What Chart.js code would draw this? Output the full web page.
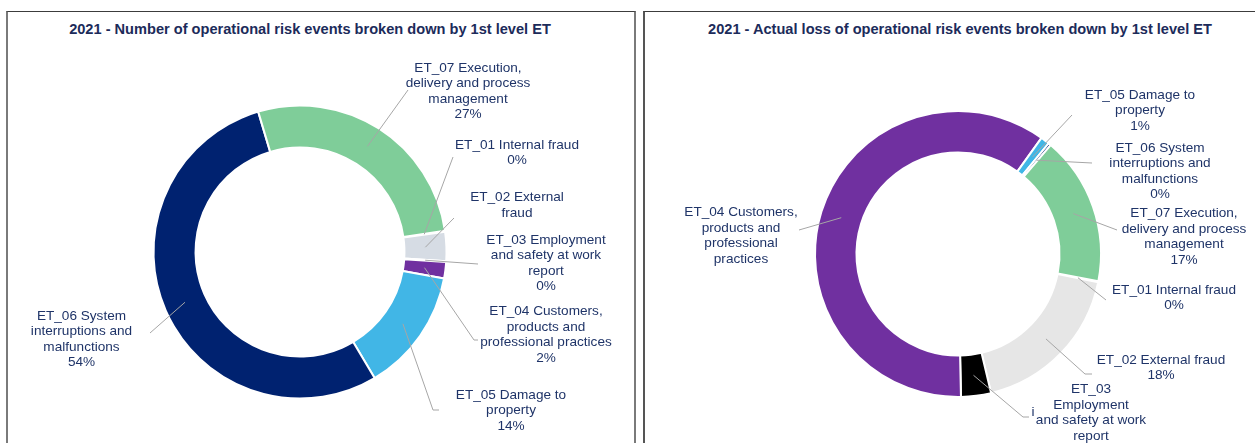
<!DOCTYPE html>
<html>
<head>
<meta charset="utf-8">
<script src="https://cdn.jsdelivr.net/npm/chart.js@4.4.0/dist/chart.umd.min.js"></script>
<style>
html,body{margin:0;padding:0;background:#fff;}
body{width:1255px;height:443px;overflow:hidden;position:relative;font-family:Arial,"Liberation Sans",sans-serif;}
.panel{position:absolute;top:11px;height:440px;border-top:1px solid #3c3c3c;box-sizing:border-box;}
#p1{left:6px;width:630px;border-left:2px solid #7a7a7a;border-right:2px solid #7a7a7a;}
#p2{left:643px;width:640px;border-left:2px solid #555;}
.ttl{position:absolute;top:21px;font-weight:bold;font-size:14.6px;color:#1c2b5a;white-space:nowrap;transform:translateX(-50%);}
canvas{position:absolute;left:0;top:0;}
</style>
</head>
<body>
<div class="panel" id="p1"></div>
<div class="panel" id="p2"></div>
<div class="ttl" style="left:310px">2021 - Number of operational risk events broken down by 1st level ET</div>
<div class="ttl" style="left:960px">2021 - Actual loss of operational risk events broken down by 1st level ET</div>
<canvas id="c1" width="1255" height="443"></canvas>
<canvas id="c2" width="1255" height="443"></canvas>
<script>
// event types (1st level)
const categories=['ET_01','ET_02','ET_03','ET_04','ET_05','ET_06','ET_07'];

// share of events / of actual loss, %
const countShare=[0.1,3.2,0.1,1.8,13.6,53.9,27.3];
const lossShare=[0.1,18.2,3.4,60.5,1.0,0.3,16.9];

// label text as wrapped in the original
const countLabels=[
  ['ET_01 Internal fraud'],
  ['ET_02 External','fraud'],
  ['ET_03 Employment','and safety at work','report'],
  ['ET_04 Customers,','products and','professional practices'],
  ['ET_05 Damage to','property'],
  ['ET_06 System','interruptions and','malfunctions'],
  ['ET_07 Execution,','delivery and process','management']
];
const lossLabels=[
  ['ET_01 Internal fraud'],
  ['ET_02 External fraud'],
  ['ET_03','Employment','and safety at work','report'],
  ['ET_04 Customers,','products and','professional','practices'],
  ['ET_05 Damage to','property'],
  ['ET_06 System','interruptions and','malfunctions'],
  ['ET_07 Execution,','delivery and process','management']
];
const countShowPct=[true,false,true,true,true,true,true];
const lossShowPct=[true,true,true,false,true,true,true];

// where each label sits: text centre x, first line y, leader end (ex,ey), optional elbow hx
const countPos=[
  {x:517,y:145,ex:453,ey:157},
  {x:517,y:197.5,ex:454,ey:218},
  {x:546,y:240,ex:478,ey:264},
  {x:546,y:311.5,ex:474,ey:340,hx:478},
  {x:511,y:395,ex:433,ey:410,hx:439},
  {x:81.5,y:316,ex:150,ey:333},
  {x:468,y:68,ex:408,ey:90}
];
const lossPos=[
  {x:1174,y:290,ex:1106,ey:300},
  {x:1161,y:360,ex:1085,ey:374,hx:1092},
  {x:1091,y:389.5,ex:1023,ey:417,hx:1029},
  {x:741,y:212.5,ex:799,ey:230},
  {x:1140,y:95,ex:1072,ey:115},
  {x:1160,y:148,ex:1092,ey:163},
  {x:1184,y:213.5,ex:1117,ey:230}
];

const leaderPlugin={
  id:'leaders',
  afterDatasetsDraw(chart,args,opts){
    const ctx=chart.ctx;
    const meta=chart.getDatasetMeta(0);
    const vals=chart.data.datasets[0].data;
    const total=vals.reduce((s,v)=>s+v,0);
    ctx.save();
    opts.pos.forEach((L,i)=>{
      const p=meta.data[i].tooltipPosition();
      ctx.strokeStyle='#a6a6a6'; ctx.lineWidth=1;
      ctx.beginPath(); ctx.moveTo(p.x,p.y); ctx.lineTo(L.ex,L.ey);
      if(L.hx!=null) ctx.lineTo(L.hx,L.ey);
      ctx.stroke();
      const lines=opts.names[i].slice();
      if(opts.showPct[i]) lines.push(Math.round(vals[i]/total*100)+'%');
      ctx.fillStyle='#1f3468';
      ctx.font='13.6px Arial, "Liberation Sans", sans-serif';
      ctx.textAlign='center'; ctx.textBaseline='middle';
      lines.forEach((t,k)=>ctx.fillText(t,L.x,L.y+k*15.5));
    });
    (opts.extra||[]).forEach(e=>ctx.fillText(e.t,e.x,e.y));
    ctx.restore();
  }
};

function donut(id,values,colors,rotation,cutout,pad,names,showPct,pos,extra){
  return new Chart(document.getElementById(id),{
    type:'doughnut',
    data:{labels:categories,datasets:[{data:values,backgroundColor:colors,borderColor:'#fff',borderWidth:2}]},
    options:{
      responsive:false,animation:false,rotation:rotation,cutout:cutout,
      layout:{padding:pad},
      plugins:{legend:{display:false},tooltip:{enabled:false},
        leaders:{names:names,showPct:showPct,pos:pos,extra:extra}}
    },
    plugins:[leaderPlugin]
  });
}

donut('c1',countShare,['#a5a5a5','#d6dce4','#000000','#7030a0','#41b6e6','#002270','#7fcd99'],
  81.7,'71.3%',{left:152.5,right:807.5,top:104.5,bottom:43.5},countLabels,countShowPct,countPos);
donut('c2',lossShare,['#a5a5a5','#e6e6e6','#000000','#7030a0','#41b6e6','#002270','#7fcd99'],
  101,'71%',{left:814,right:153,top:110,bottom:45},lossLabels,lossShowPct,lossPos,[{t:'i',x:1033,y:412}]);
</script>
</body>
</html>
